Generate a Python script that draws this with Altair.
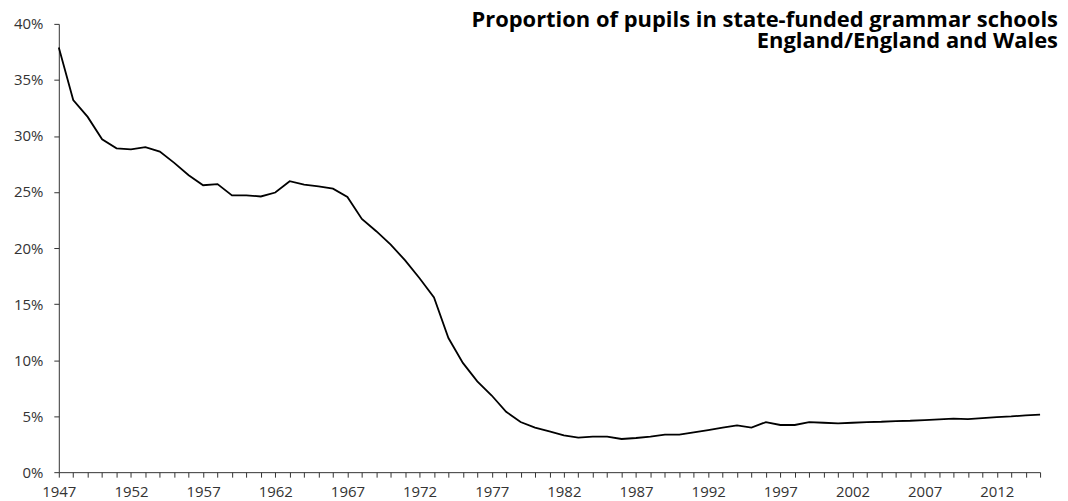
import altair as alt
import pandas as pd

years = list(range(1947, 2016))
share = [
    37.9, 33.2, 31.7, 29.7, 28.9, 28.8, 29.0, 28.6, 27.6, 26.5,
    25.6, 25.7, 24.7, 24.7, 24.6, 24.95, 25.96, 25.66, 25.5, 25.3,
    24.56, 22.6, 21.5, 20.3, 18.9, 17.3, 15.6, 11.97, 9.75, 8.1,
    6.84, 5.39, 4.47, 3.97, 3.64, 3.29, 3.08, 3.17, 3.17, 2.96,
    3.05, 3.17, 3.35, 3.35, 3.56, 3.76, 3.97, 4.18, 3.97, 4.47,
    4.21, 4.21, 4.47, 4.41, 4.36, 4.41, 4.47, 4.50, 4.56, 4.59,
    4.65, 4.71, 4.77, 4.74, 4.83, 4.92, 4.98, 5.07, 5.13,
]
title_lines = ["Proportion of pupils in state-funded grammar schools",
               "England/England and Wales"]
y_ticks = [0, 0.05, 0.10, 0.15, 0.20, 0.25, 0.30, 0.35, 0.40]

df = pd.DataFrame({"year": years, "share": [v / 100 for v in share]})

W, H = 985, 450
FONT = "Open Sans"

line = alt.Chart(df).mark_line(color="black", strokeWidth=1.8).encode(
    x=alt.X("year:Q",
            scale=alt.Scale(domain=[1947, 2015], nice=False, zero=False),
            axis=alt.Axis(values=years, title=None, grid=False,
                          labelExpr="(datum.value - 1947) % 5 == 0 ? datum.value : ''",
                          labelOverlap=False, labelFlush=False,
                          tickSize=5, labelPadding=7, domainColor="#333",
                          tickColor="#333", labelColor="#333",
                          labelFont=FONT, labelFontSize=15)),
    y=alt.Y("share:Q",
            scale=alt.Scale(domain=[0, 0.4], nice=False),
            axis=alt.Axis(values=y_ticks, format=".0%", title=None, grid=False,
                          tickSize=5, labelPadding=11, domainColor="#333",
                          tickColor="#333", labelColor="#333",
                          labelFont=FONT, labelFontSize=15)),
)

title = alt.Chart(pd.DataFrame({"t": ["\n".join(title_lines)]})).mark_text(
    align="right", baseline="alphabetic", font=FONT, fontWeight="bold",
    fontSize=22, color="black", lineBreak="\n", lineHeight=21
).encode(
    x=alt.value(W + 18),
    y=alt.value(3),
    text="t:N",
)

chart = alt.layer(line, title).properties(
    width=W, height=H,
    autosize=alt.AutoSizeParams(type="none"),
    padding={"left": 51, "top": 15, "right": 20, "bottom": 28},
).configure_view(stroke=None)

chart.save("out.html", embed_options={"renderer": "svg", "actions": False})
